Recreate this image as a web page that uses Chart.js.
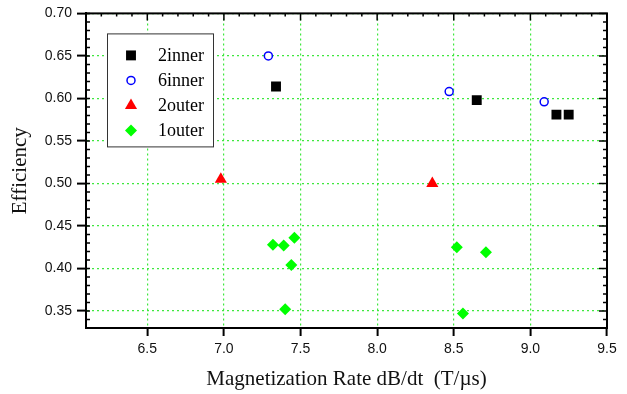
<!DOCTYPE html>
<html>
<head>
<meta charset="utf-8">
<script src="https://cdn.jsdelivr.net/npm/chart.js@4/dist/chart.umd.min.js"></script>
<style>
  html, body { margin: 0; padding: 0; background: #fff; }
  #wrap { width: 627px; height: 394px; }
</style>
</head>
<body>
<div id="wrap"><canvas id="effChart"></canvas></div>
<script>
// values
var inner2X = [7.34, 8.65, 9.17, 9.25];
var inner2Y = [0.614, 0.598, 0.581, 0.581];
var inner6X = [7.29, 8.47, 9.09];
var inner6Y = [0.650, 0.608, 0.596];
var outer2X = [6.98, 8.36];
var outer2Y = [0.505, 0.500];
var outer1X = [7.32, 7.39, 7.46, 7.44, 7.40, 8.52, 8.71, 8.56];
var outer1Y = [0.428, 0.427, 0.436, 0.404, 0.352, 0.425, 0.419, 0.347];

var xTicks = [6.5, 7.0, 7.5, 8.0, 8.5, 9.0, 9.5];
var yTicks = [0.35, 0.40, 0.45, 0.50, 0.55, 0.60, 0.65, 0.70];

function pts(xs, ys) {
     return xs.map(function(x, i) { return {x: x, y: ys[i]}; });
}

// frame with inside ticks, like the origin plot
var framePlugin = {
     id: 'frame',
     afterDraw: function(chart) {
          var ctx = chart.ctx, a = chart.chartArea;
          var xs = chart.scales.x, ys = chart.scales.y;
          ctx.save();
          ctx.setLineDash([]);
          ctx.strokeStyle = '#000';
          ctx.lineWidth = 2;
          ctx.strokeRect(a.left, a.top, a.right - a.left, a.bottom - a.top);
          ctx.lineWidth = 1.5;
          ctx.beginPath();
          // major ticks inside on top and right
          xTicks.forEach(function(v) {
               var px = xs.getPixelForValue(v);
               ctx.moveTo(px, a.top); ctx.lineTo(px, a.top + 7);
          });
          yTicks.forEach(function(v) {
               var py = ys.getPixelForValue(v);
               ctx.moveTo(a.right, py); ctx.lineTo(a.right - 8, py);
          });
          // minor ticks
          for (var i = 62; i <= 95; i++) {
               var px = xs.getPixelForValue(i / 10);
               ctx.moveTo(px, a.top); ctx.lineTo(px, a.top + 3);
          }
          for (var j = 33; j <= 70; j++) {
               var py = ys.getPixelForValue(j / 100);
               ctx.moveTo(a.left, py); ctx.lineTo(a.left + 4, py);
               ctx.moveTo(a.right, py); ctx.lineTo(a.right - 4, py);
          }
          ctx.stroke();
          ctx.restore();
     }
};

// legend box inside the plot
var legendPlugin = {
     id: 'boxLegend',
     afterDraw: function(chart) {
          var ctx = chart.ctx, a = chart.chartArea;
          var bx = a.left + 21, by = a.top + 20;
          ctx.save();
          ctx.setLineDash([]);
          ctx.fillStyle = '#fff';
          ctx.fillRect(bx, by, 106, 113);
          ctx.strokeStyle = '#333';
          ctx.lineWidth = 1;
          ctx.strokeRect(bx + 0.5, by + 0.5, 106, 113);
          ctx.font = '18px "Liberation Serif", serif';
          ctx.textBaseline = 'middle';
          chart.data.datasets.forEach(function(ds, i) {
               var cy = by + 22 + i * 25;
               ctx.fillStyle = ds.backgroundColor;
               ctx.strokeStyle = ds.borderColor;
               ctx.lineWidth = ds.borderWidth;
               Chart.helpers.drawPoint(ctx, {pointStyle: ds.pointStyle, radius: ds.pointRadius, borderWidth: ds.borderWidth}, bx + 24, cy);
               ctx.fillStyle = '#000';
               ctx.fillText(ds.label, bx + 51, cy + 1);
          });
          ctx.restore();
     }
};

new Chart(document.getElementById('effChart'), {
     type: 'scatter',
     data: {
          datasets: [
               {
                    label: '2inner',
                    data: pts(inner2X, inner2Y),
                    pointStyle: 'rect',
                    pointRadius: 7,
                    backgroundColor: '#000',
                    borderColor: '#000',
                    borderWidth: 0
               },
               {
                    label: '6inner',
                    data: pts(inner6X, inner6Y),
                    pointStyle: 'circle',
                    pointRadius: 4,
                    backgroundColor: '#fff',
                    borderColor: '#0000ff',
                    borderWidth: 1.5
               },
               {
                    label: '2outer',
                    data: pts(outer2X, outer2Y),
                    pointStyle: 'triangle',
                    pointRadius: 7,
                    backgroundColor: '#ff0000',
                    borderColor: '#ff0000',
                    borderWidth: 0
               },
               {
                    label: '1outer',
                    data: pts(outer1X, outer1Y),
                    pointStyle: 'rectRot',
                    pointRadius: 6,
                    backgroundColor: '#00ff00',
                    borderColor: '#00ff00',
                    borderWidth: 0
               }
          ]
     },
     options: {
          responsive: true,
          maintainAspectRatio: false,
          animation: false,
          layout: { padding: { left: 0, right: 20, top: 10, bottom: 0 } },
          plugins: {
               legend: { display: false },
               tooltip: { enabled: false }
          },
          scales: {
               x: {
                    type: 'linear',
                    min: 6.1,
                    max: 9.5,
                    afterBuildTicks: function(axis) {
                         axis.ticks = xTicks.map(function(v) { return {value: v}; });
                    },
                    afterFit: function(axis) { axis.height = 66; },
                    ticks: {
                         autoSkip: false,
                         maxRotation: 0,
                         padding: 5,
                         color: '#111',
                         font: { family: '"Liberation Sans", Arial, sans-serif', size: 14 },
                         callback: function(v) { return Number(v).toFixed(1); }
                    },
                    grid: {
                         color: '#3ee83e',
                         lineWidth: 1.2,
                         drawTicks: true,
                         tickLength: 8,
                         tickColor: '#000',
                         tickWidth: 2,
                         tickBorderDash: []
                    },
                    border: { display: true, color: '#000', width: 2, dash: [2, 3] },
                    title: {
                         display: true,
                         text: 'Magnetization Rate dB/dt  (T/\u00b5s)',
                         color: '#111',
                         font: { family: '"Liberation Serif", "Times New Roman", serif', size: 21 },
                         padding: { top: 10, bottom: 2 }
                    }
               },
               y: {
                    type: 'linear',
                    min: 0.33,
                    max: 0.70,
                    afterBuildTicks: function(axis) {
                         axis.ticks = yTicks.map(function(v) { return {value: v}; });
                    },
                    afterFit: function(axis) { axis.width = 86; },
                    ticks: {
                         autoSkip: false,
                         padding: 5,
                         color: '#111',
                         font: { family: '"Liberation Sans", Arial, sans-serif', size: 14 },
                         callback: function(v) { return Number(v).toFixed(2); }
                    },
                    grid: {
                         color: '#3ee83e',
                         lineWidth: 1.2,
                         drawTicks: true,
                         tickLength: 9,
                         tickColor: '#000',
                         tickWidth: 2,
                         tickBorderDash: []
                    },
                    border: { display: true, color: '#000', width: 2, dash: [2, 3] },
                    title: {
                         display: true,
                         text: 'Efficiency',
                         color: '#111',
                         font: { family: '"Liberation Serif", "Times New Roman", serif', size: 21 },
                         padding: { top: 8, bottom: 0 }
                    }
               }
          }
     },
     plugins: [framePlugin, legendPlugin]
});
</script>
</body>
</html>
